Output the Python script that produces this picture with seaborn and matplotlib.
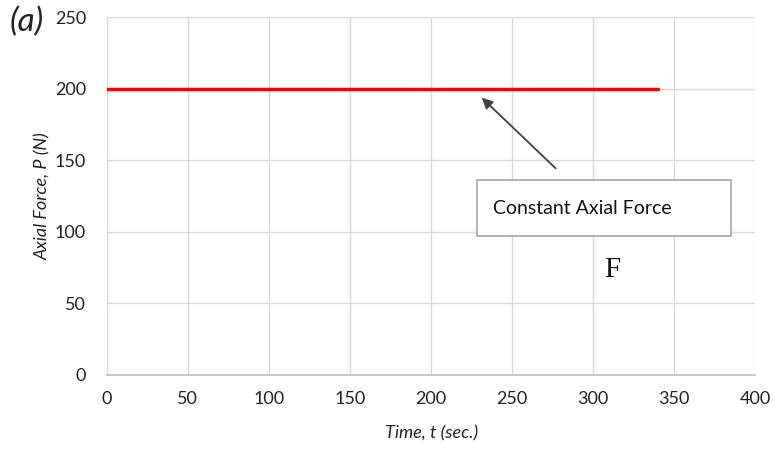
import matplotlib
matplotlib.use("Agg")
import matplotlib.pyplot as plt
import seaborn as sns
import pandas as pd

# Applied load history
time_s = [0, 340]
axial_force_n = [200, 200]

x_ticks = [0, 50, 100, 150, 200, 250, 300, 350, 400]
y_ticks = [0, 50, 100, 150, 200, 250]

sns.set_theme(style="white")
plt.rcParams["font.family"] = ["Lato", "DejaVu Sans"]

fig = plt.figure(figsize=(7.74, 4.51), dpi=100)
ax = fig.add_axes([0.138, 0.169, 0.838, 0.793])

df = pd.DataFrame({"t": time_s, "P": axial_force_n})
sns.lineplot(data=df, x="t", y="P", ax=ax, color="#ff0000", linewidth=2.5)

ax.set_xlim(0, 400)
ax.set_ylim(0, 250)
ax.set_xticks(x_ticks)
ax.set_yticks(y_ticks)
ax.tick_params(axis="y", length=0, labelsize=13, colors="#222222", pad=15)
ax.tick_params(axis="x", length=0, labelsize=13, colors="#222222", pad=12)
ax.grid(True, color="#d9d9d9", linewidth=1)
for side in ["top", "right", "left"]:
    ax.spines[side].set_visible(False)
ax.spines["bottom"].set_color("#bfbfbf")

ax.set_xlabel("Time, t (sec.)", fontsize=13, style="italic", color="#222222", labelpad=13)
ax.set_ylabel("Axial Force, P (N)", fontsize=13, style="italic", color="#222222", labelpad=3)

# Callout box and arrow
ax.annotate("", xy=(230, 195), xytext=(278, 143),
            arrowprops=dict(arrowstyle="-|>", color="#404040", lw=1.3, mutation_scale=16))
ax.add_patch(plt.Rectangle((228, 97), 157, 39, fill=True, facecolor="white",
                           edgecolor="#a6a6a6", linewidth=1.2, zorder=3))
ax.text(238, 116.5, "Constant Axial Force", fontsize=14, color="#111111",
        va="center", ha="left", zorder=4)

ax.text(312, 73, "F", fontsize=21, family="Liberation Serif", color="#111111",
        ha="center", va="center")

fig.text(0.012, 0.952, "(a)", fontsize=24, style="italic", color="#222222",
         ha="left", va="center")

fig.savefig("out.png", dpi=100)
